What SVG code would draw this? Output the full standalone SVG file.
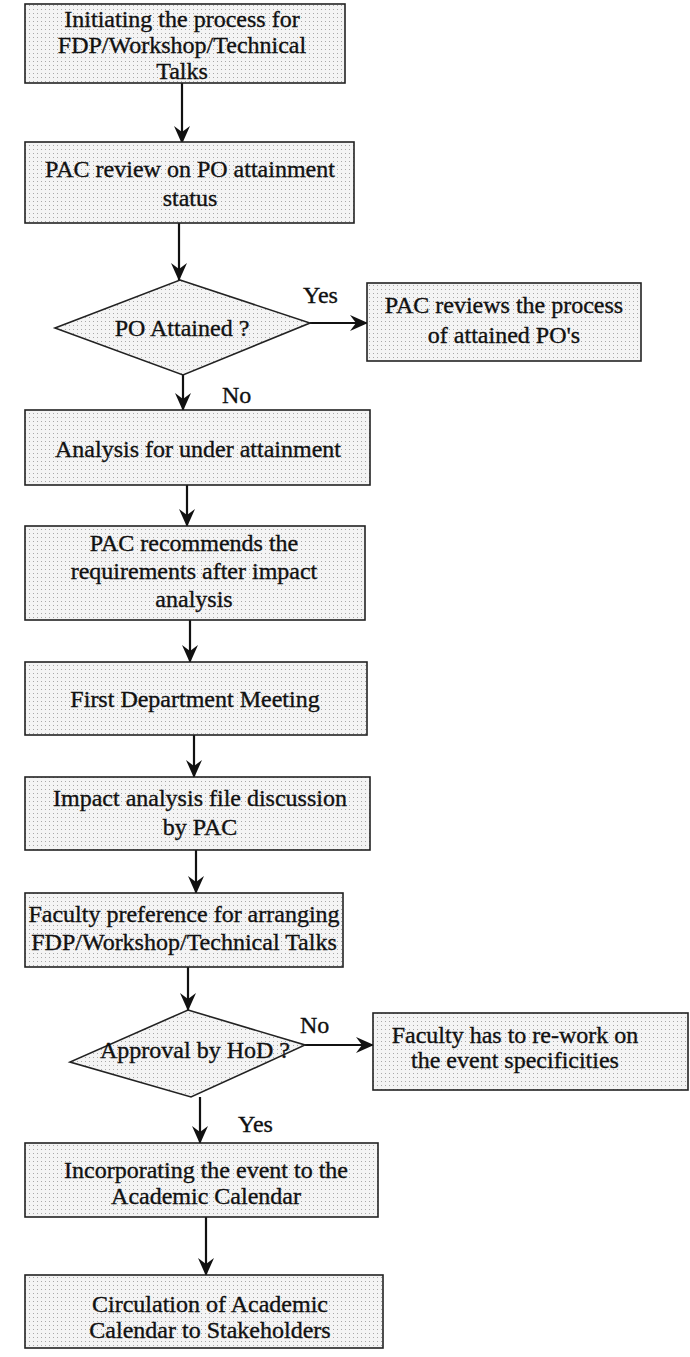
<svg xmlns="http://www.w3.org/2000/svg" width="690" height="1357" viewBox="0 0 690 1357">
<defs>
<pattern id="dots" width="4" height="4" patternUnits="userSpaceOnUse">
<rect width="4" height="4" fill="#f4f4f4"/>
<rect x="1" y="1" width="1" height="1" fill="#a8a8a8"/>
</pattern>
<marker id="ah" markerWidth="18" markerHeight="16" refX="17" refY="8" orient="auto" markerUnits="userSpaceOnUse">
<path d="M0,0 L18,8 L0,16 L6,8 z" fill="#111"/>
</marker>
<style>
.box{fill:url(#dots);stroke:#222;stroke-width:1.6}
.t{font-family:"Liberation Serif","Times New Roman",serif;font-size:24px;fill:#111;stroke:#111;stroke-width:0.35;text-anchor:middle}
.lbl{font-family:"Liberation Serif","Times New Roman",serif;font-size:24px;fill:#111;stroke:#111;stroke-width:0.35}
.c{stroke:#111;stroke-width:2.2;fill:none;marker-end:url(#ah)}
</style>
</defs>
<rect width="690" height="1357" fill="#fff"/>
<g id="connectors">
<line class="c" x1="182" y1="83" x2="182" y2="143"/>
<line class="c" x1="179" y1="223" x2="179" y2="280"/>
<line class="c" x1="310" y1="323" x2="367" y2="323"/>
<line class="c" x1="183" y1="375" x2="183" y2="410"/>
<line class="c" x1="187" y1="485" x2="187" y2="526"/>
<line class="c" x1="190" y1="620" x2="190" y2="662"/>
<line class="c" x1="194" y1="735" x2="194" y2="777"/>
<line class="c" x1="196" y1="850" x2="196" y2="893"/>
<line class="c" x1="188" y1="967" x2="188" y2="1010"/>
<line class="c" x1="305" y1="1045" x2="373" y2="1045"/>
<line class="c" x1="200" y1="1097" x2="200" y2="1143"/>
<line class="c" x1="206" y1="1217" x2="206" y2="1275"/>
<text class="lbl" x="303" y="303">Yes</text>
<text class="lbl" x="222" y="403">No</text>
<text class="lbl" x="300" y="1033">No</text>
<text class="lbl" x="238" y="1132">Yes</text>
</g>
<g id="n1"><rect class="box" x="25" y="4" width="320" height="79"/>
<text class="t" x="182" y="27">Initiating the process for</text>
<text class="t" x="182" y="53">FDP/Workshop/Technical</text>
<text class="t" x="182" y="79">Talks</text></g>
<g id="n2"><rect class="box" x="25" y="142" width="329" height="81"/>
<text class="t" x="190" y="177">PAC review on PO attainment</text>
<text class="t" x="190" y="206">status</text></g>
<g id="d1"><polygon class="box" points="180,280 310,323 183,375 55,328"/>
<text class="t" x="182" y="336">PO Attained ?</text></g>
<g id="n3"><rect class="box" x="367" y="283" width="274" height="78"/>
<text class="t" x="504" y="313">PAC reviews the process</text>
<text class="t" x="504" y="343">of attained PO's</text></g>
<g id="n4"><rect class="box" x="25" y="410" width="345" height="75"/>
<text class="t" x="198" y="457">Analysis for under attainment</text></g>
<g id="n5"><rect class="box" x="25" y="526" width="340" height="94"/>
<text class="t" x="194" y="551">PAC recommends the</text>
<text class="t" x="194" y="579">requirements after impact</text>
<text class="t" x="194" y="607">analysis</text></g>
<g id="n6"><rect class="box" x="25" y="662" width="342" height="73"/>
<text class="t" x="195" y="707">First Department Meeting</text></g>
<g id="n7"><rect class="box" x="25" y="777" width="345" height="73"/>
<text class="t" x="200" y="806">Impact analysis file discussion</text>
<text class="t" x="200" y="835">by PAC</text></g>
<g id="n8"><rect class="box" x="25" y="893" width="318" height="74"/>
<text class="t" x="184" y="922">Faculty preference for arranging</text>
<text class="t" x="184" y="950">FDP/Workshop/Technical Talks</text></g>
<g id="d2"><polygon class="box" points="188,1010 305,1045 191,1097 70,1062"/>
<text class="t" x="195" y="1058">Approval by HoD ?</text></g>
<g id="n9"><rect class="box" x="373" y="1013" width="315" height="77"/>
<text class="t" x="515" y="1043">Faculty has to re-work on</text>
<text class="t" x="515" y="1068">the event specificities</text></g>
<g id="n10"><rect class="box" x="25" y="1143" width="353" height="74"/>
<text class="t" x="206" y="1178">Incorporating the event to the</text>
<text class="t" x="206" y="1204">Academic Calendar</text></g>
<g id="n11"><rect class="box" x="25" y="1275" width="358" height="73"/>
<text class="t" x="210" y="1312">Circulation of  Academic</text>
<text class="t" x="210" y="1338">Calendar to Stakeholders</text></g>
</svg>
